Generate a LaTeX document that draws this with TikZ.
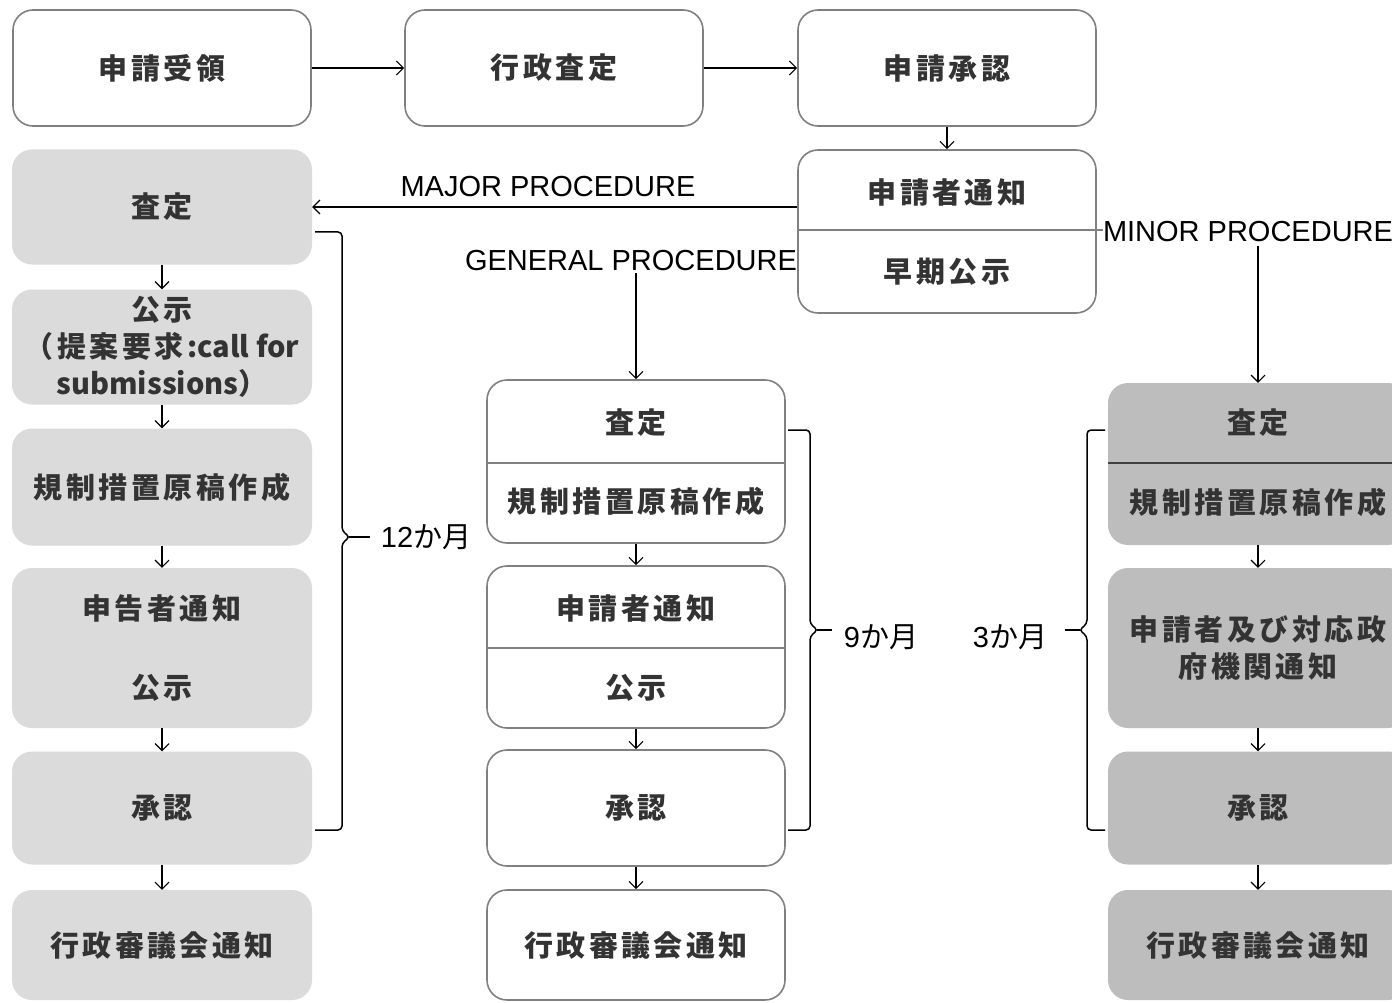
\documentclass[tikz,border=0pt]{standalone}
\usepackage{fontspec}
\usetikzlibrary{arrows.meta}
\newfontfamily\jpb{Noto Sans CJK JP}[LetterSpace=12]
\newfontfamily\jpl{Noto Sans CJK JP}
\newfontfamily\lat{Liberation Sans}
\begin{document}
\begin{tikzpicture}[x=1pt,y=-1pt,
  boxtxt/.style={font=\jpb\bfseries\fontsize{29}{37}\selectfont, text=black!80, align=center},
  wbox/.style={boxtxt, draw=black!50, line width=1.6pt, rounded corners=20pt, fill=white, minimum width=298pt, inner sep=0pt},
  lbox/.style={boxtxt, fill=black!14, rounded corners=20pt, minimum width=300pt, inner sep=0pt},
  rbox/.style={boxtxt, fill=black!26, rounded corners=20pt, minimum width=300pt, inner sep=0pt},
  ptxt/.style={boxtxt, inner sep=0pt},
  lab/.style={font=\lat\fontsize{29}{34}\selectfont, inner sep=0pt},
  arr/.style={-{Straight Barb[length=7pt,width=14pt]}, line width=1.1pt},
  divline/.style={draw=black!50, line width=1.2pt},
  brk/.style={line width=1.5pt, rounded corners=4pt}
]
\useasboundingbox[fill=white] (0,0) rectangle (1392,1003);

% top row
\node[wbox, minimum height=116pt] (t1) at (162,68) {申請受領};
\node[wbox, minimum height=116pt] (t2) at (554,68) {行政査定};
\node[wbox, minimum height=116pt] (t3) at (947,68) {申請承認};
\node[wbox, minimum height=163pt] (n4) at (947,231.5) {};
\node[ptxt] (n4a) at (947,192) {申請者通知};
\node[ptxt] (n4b) at (947,272) {早期公示};

% labels
\node[lab] (mj) at (548,187) {MAJOR PROCEDURE};
\node[lab] (gp) at (631,261) {GENERAL PROCEDURE};
\node[lab] (mp) at (1248,232) {MINOR PROCEDURE};
\draw[divline] (n4.west |- 0,230) -- (mp.west |- 0,230);

% left column
\node[lbox, minimum height=115pt] (L1) at (162,207) {査定};
\node[lbox, minimum height=115pt] (L2) at (162,347) {公示\\（提案要求:{\jpl\bfseries call for}\\{\jpl\bfseries submissions}）};
\node[lbox, minimum height=117pt] (L3) at (162,487) {規制措置原稿作成};
\node[lbox, minimum height=160pt] (L4) at (162,648) {};
\node[ptxt] (L4a) at (162,608) {申告者通知};
\node[ptxt] (L4b) at (162,688) {公示};
\node[lbox, minimum height=113pt] (L5) at (162,808) {承認};
\node[lbox, minimum height=110pt] (L6) at (162,945) {行政審議会通知};

% middle column
\node[wbox, minimum height=163pt] (M1) at (636,461.5) {};
\draw[divline] (M1.west |- 0,463) -- (M1.east |- 0,463);
\node[ptxt] (M1a) at (636,423) {査定};
\node[ptxt] (M1b) at (636,501) {規制措置原稿作成};
\node[wbox, minimum height=162pt] (M2) at (636,647) {};
\draw[divline] (M2.west |- 0,648) -- (M2.east |- 0,648);
\node[ptxt] (M2a) at (636,608) {申請者通知};
\node[ptxt] (M2b) at (636,688) {公示};
\node[wbox, minimum height=116pt] (M3) at (636,808) {承認};
\node[wbox, minimum height=110pt] (M4) at (636,945) {行政審議会通知};

% right column
\node[rbox, minimum height=162pt] (R1) at (1258,464) {};
\draw[line width=1.4pt, draw=black!75] (R1.west |- 0,463) -- (R1.east |- 0,463);
\node[ptxt] (R1a) at (1258,423) {査定};
\node[ptxt] (R1b) at (1258,502) {規制措置原稿作成};
\node[rbox, minimum height=160pt] (R2) at (1258,648) {申請者及び対応政\\府機関通知};
\node[rbox, minimum height=113pt] (R3) at (1258,808) {承認};
\node[rbox, minimum height=110pt] (R4) at (1258,945) {行政審議会通知};

% connectors
\draw[arr] (t1.east) -- (t2.west);
\draw[arr] (t2.east) -- (t3.west);
\draw[arr] (t3.south) -- (n4.north);
\draw[arr] (L1.east -| n4.west) -- (L1.east);
\draw[arr] (gp.south -| M1.north) ++(0,2) -- (M1.north);
\draw[arr] (mp.south -| R1.north) ++(0,4) -- (R1.north);
\draw[arr] (L1.south) -- (L2.north);
\draw[arr] (L2.south) -- (L3.north);
\draw[arr] (L3.south) -- (L4.north);
\draw[arr] (L4.south) -- (L5.north);
\draw[arr] (L5.south) -- (L6.north);
\draw[arr] (M1.south) -- (M2.north);
\draw[arr] (M2.south) -- (M3.north);
\draw[arr] (M3.south) -- (M4.north);
\draw[arr] (R1.south) -- (R2.north);
\draw[arr] (R2.south) -- (R3.north);
\draw[arr] (R3.south) -- (R4.north);

% brackets
\draw[brk] (315,232) -- (342,232) -- (342,531) -- (350,537) -- (342,543) -- (342,830) -- (315,830);
\draw[line width=1.5pt] (349,537) -- (370,537);
\node[lab] (m12) at (426,537) {12{\jpl か月}};
\draw[brk] (788,430) -- (810,430) -- (810,624) -- (818,630) -- (810,636) -- (810,830) -- (788,830);
\draw[line width=1.5pt] (817,630) -- (832,630);
\node[lab] (m9) at (881,637) {9{\jpl か月}};
\draw[brk] (1105,430) -- (1087,430) -- (1087,624) -- (1079,630) -- (1087,636) -- (1087,830) -- (1105,830);
\draw[line width=1.5pt] (1080,630) -- (1065,630);
\node[lab] (m3) at (1010,637) {3{\jpl か月}};
\end{tikzpicture}
\end{document}
